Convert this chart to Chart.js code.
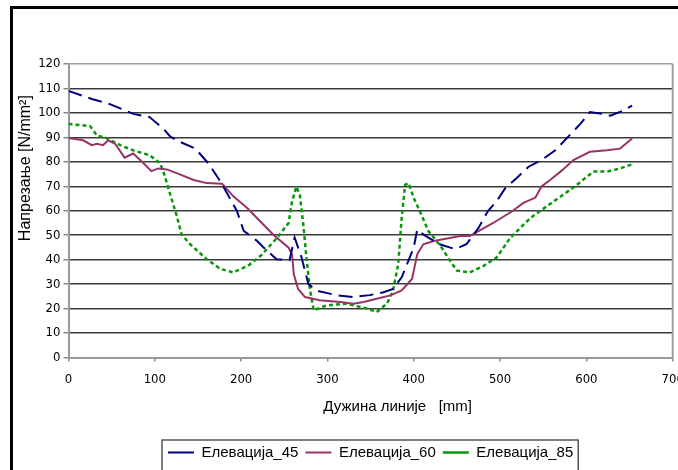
<!DOCTYPE html>
<html>
<head>
<meta charset="utf-8">
<script src="https://cdn.jsdelivr.net/npm/chart.js@4.4.1/dist/chart.umd.min.js"></script>
<style>
    html, body { margin: 0; padding: 0; background: #fff; overflow: hidden; }
    #frame { position: absolute; left: 10px; top: 6px; width: 800px; height: 600px; border: 3px solid #000; }
    #chart { position: absolute; left: 0; top: 0; }
</style>
</head>
<body>
<div id="frame"></div>
<canvas id="chart" width="678" height="470"></canvas>
<script>
// values: x = position along the line [mm], y = stress
const e45X = [0, 27, 48, 75, 94, 110, 118, 129, 147, 162, 176, 195, 203, 218, 226, 241, 256, 262, 270, 278, 287, 311, 330, 349, 365, 376, 386, 394, 400, 404, 411, 417, 430, 448, 461, 475, 486, 496, 506, 519, 533, 548, 564, 579, 593, 604, 620, 628, 643, 653];
const e45Y = [109, 105.7, 103.6, 99.6, 98.3, 93.5, 90.3, 88.2, 85.4, 79.4, 72, 60, 51.8, 47.8, 45, 40.2, 39.8, 49, 40.9, 30, 27.4, 25.4, 24.7, 25.5, 26.7, 28, 32.8, 39.7, 45, 52.3, 50.3, 49, 46.3, 44.3, 46.3, 53, 59.9, 63.9, 69.2, 73.3, 78, 80.7, 84.7, 90.3, 95.5, 100.3, 99.6, 98.9, 101, 103];

const e60X = [0, 17, 27, 33, 40, 46, 54, 65, 75, 87, 96, 104, 114, 129, 145, 160, 178, 191, 207, 222, 237, 255, 259, 261, 266, 274, 291, 315, 330, 342, 357, 373, 386, 398, 404, 411, 423, 454, 465, 475, 492, 514, 527, 541, 548, 558, 572, 585, 604, 624, 639, 653];
const e60Y = [89.7, 88.8, 86.8, 87.4, 86.8, 88.8, 87.4, 81.7, 83.4, 79.4, 76.2, 77.3, 76.9, 74.9, 72.6, 71.3, 71, 65.9, 61.1, 55.7, 50.3, 44.9, 42.2, 34.1, 28, 24.7, 23.4, 22.7, 22, 22.7, 24, 25.4, 27.4, 32.1, 42.2, 46.3, 47.6, 49.7, 49.7, 51.7, 55, 59.8, 63.2, 65.4, 69.9, 72.6, 76.6, 80.7, 84.1, 84.7, 85.4, 89.5];

const e85X = [0, 25, 33, 44, 60, 75, 94, 106, 110, 118, 125, 131, 141, 160, 176, 191, 208, 224, 243, 255, 259, 264, 268, 272, 276, 280, 284, 299, 322, 346, 357, 369, 376, 382, 386, 390, 394, 400, 407, 417, 431, 442, 450, 465, 481, 496, 512, 535, 546, 573, 589, 608, 624, 639, 653];
const e85Y = [95.5, 94.6, 90.8, 89.7, 86.8, 84.7, 82.7, 79.4, 76, 66.5, 58.4, 50.3, 46.3, 40.2, 36.2, 34.8, 37.5, 42, 49.5, 55, 63.8, 69.9, 66.5, 54.4, 39.6, 27.4, 19.3, 21.3, 22, 20, 18.6, 22, 27.4, 38.2, 57, 70.6, 71.3, 65.2, 59.8, 51.7, 45.6, 39.6, 35.5, 34.8, 37.5, 40.9, 49, 57, 59.8, 66.5, 70.6, 76, 76, 77.3, 79];

const seriesNames = ['Елевација_45', 'Елевација_60', 'Елевација_85'];
const xTitle = 'Дужина линије   [mm]';
const yTitle = 'Напрезање [N/mm²]';

const tickFont = { family: "'Liberation Sans Narrow', 'DejaVu Sans Condensed', 'Liberation Sans', Arial, sans-serif", size: 13 };
const textFont = { family: "'Liberation Sans', Arial, sans-serif", size: 15 };

function toPoints(xs, ys) {
    return xs.map((x, i) => ({ x: x, y: ys[i] }));
}

// right edge of the plot and the box round the legend
const framePlugin = {
    id: 'frames',
    beforeDatasetsDraw(chart) {
        const a = chart.chartArea;
        const ctx = chart.ctx;
        ctx.save();
        ctx.strokeStyle = '#a0a0a0';
        ctx.lineWidth = 2;
        ctx.beginPath();
        ctx.moveTo(a.right, a.top);
        ctx.lineTo(a.right, a.bottom);
        ctx.stroke();
        ctx.restore();
    },
    afterDraw(chart) {
        const boxes = chart.legend.legendHitBoxes;
        if (!boxes || !boxes.length) return;
        const left = Math.min(...boxes.map(b => b.left)) - 6;
        const right = Math.max(...boxes.map(b => b.left + b.width)) + 5;
        const top = boxes[0].top - 5;
        const ctx = chart.ctx;
        ctx.save();
        ctx.strokeStyle = '#555';
        ctx.lineWidth = 1.5;
        ctx.strokeRect(left, top, right - left, 40);
        ctx.restore();
    }
};

const ctx = document.getElementById('chart').getContext('2d');
const chart = new Chart(ctx, {
    type: 'line',
    data: {
        datasets: [{
            label: seriesNames[0],
            data: toPoints(e45X, e45Y),
            borderColor: '#000080',
            borderWidth: 2,
            borderDash: [14, 7]
        }, {
            label: seriesNames[1],
            data: toPoints(e60X, e60Y),
            borderColor: '#993366',
            borderWidth: 2
        }, {
            label: seriesNames[2],
            data: toPoints(e85X, e85Y),
            borderColor: '#0a960a',
            borderWidth: 2.5,
            borderDash: [4, 3]
        }]
    },
    options: {
        responsive: false,
        animation: false,
        elements: { point: { radius: 0 }, line: { tension: 0, fill: false } },
        layout: { padding: { left: 12, top: 64, right: 5.3, bottom: 0 } },
        plugins: {
            tooltip: { enabled: false },
            legend: {
                position: 'bottom',
                fullSize: false,
                labels: {
                    usePointStyle: true,
                    pointStyle: 'line',
                    pointStyleWidth: 26,
                    padding: 7,
                    color: '#000',
                    font: textFont,
                    generateLabels(chart) {
                        const items = Chart.defaults.plugins.legend.labels.generateLabels(chart);
                        items.forEach(it => { if (it.datasetIndex === 0) it.lineDash = []; });
                        return items;
                    }
                }
            }
        },
        scales: {
            x: {
                type: 'linear',
                min: 0,
                max: 700,
                ticks: { stepSize: 100, padding: 10, color: '#000', font: tickFont, maxRotation: 0 },
                grid: { drawOnChartArea: false, tickLength: 4, tickColor: '#888', lineWidth: 1.5 },
                border: { color: '#999', width: 2 },
                title: { display: true, text: ' '.repeat(13) + xTitle, color: '#000', font: textFont, padding: { top: 0, bottom: 22.5 } },
                afterFit(scale) {
                    scale.height = 80.5;
                    scale.paddingLeft = 0;
                    scale.paddingRight = 0;
                }
            },
            y: {
                min: 0,
                max: 120,
                ticks: { stepSize: 10, padding: 3, color: '#000', font: tickFont },
                grid: {
                    color: c => (c.tick.value === 120 ? '#a0a0a0' : '#3a3a3a'),
                    lineWidth: 1.5,
                    tickLength: 5,
                    tickColor: '#888'
                },
                border: { color: '#999', width: 2 },
                title: { display: true, text: yTitle + ' '.repeat(7), align: 'end', color: '#000', font: { family: textFont.family, size: 16 }, padding: { top: 4, bottom: 0 } },
                afterFit(scale) {
                    scale.width = 56.5;
                }
            }
        }
    },
    plugins: [framePlugin]
});
</script>
</body>
</html>
